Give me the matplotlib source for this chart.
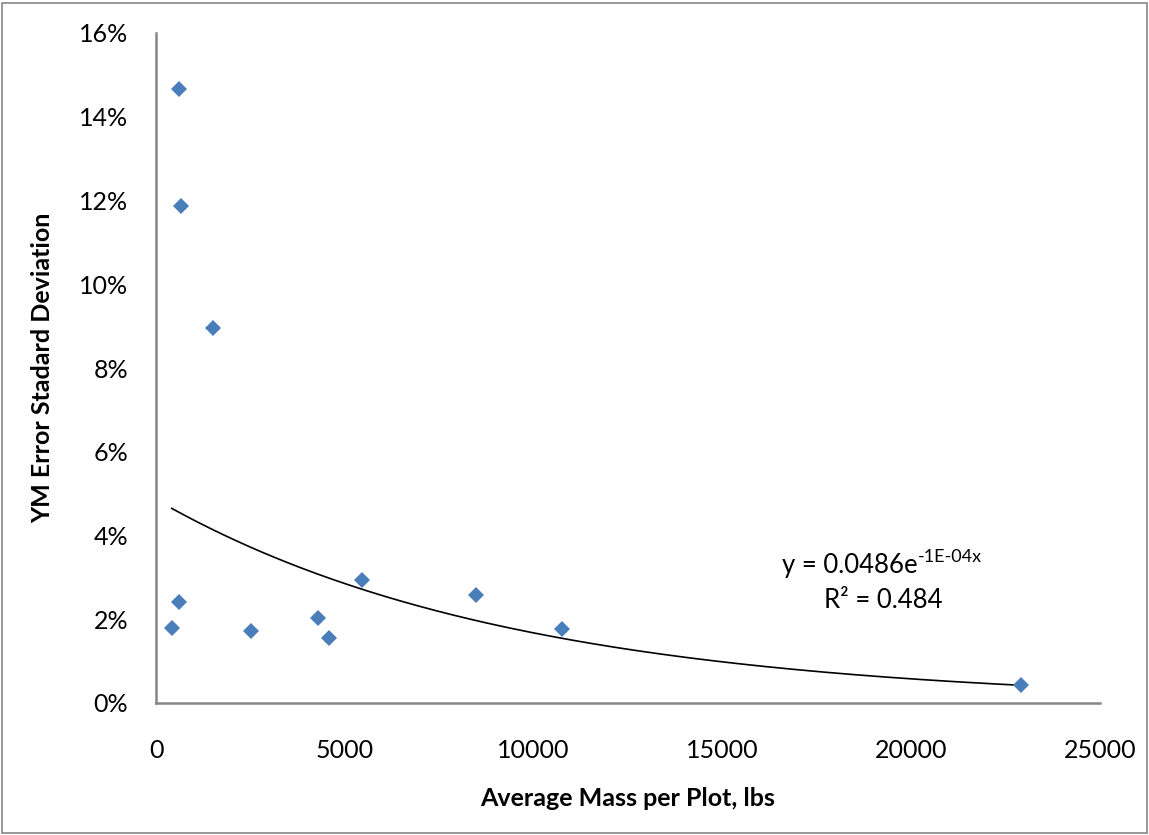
import numpy as np
import matplotlib.pyplot as plt
from matplotlib.patches import Rectangle
from matplotlib.ticker import FuncFormatter

plt.rcParams['font.family'] = ['Lato', 'DejaVu Sans']

# values
mass = [601, 670, 1510, 617, 416, 2516, 4298, 4590, 5448, 8467, 10744, 22900]
ym_sd = [0.1467, 0.1187, 0.0895, 0.0241, 0.0180, 0.0172, 0.0202, 0.0156, 0.0294, 0.0258, 0.0176, 0.0044]

eq_base = 'y = 0.0486e'
eq_sup = '-1E-04x'
r2_text = 'R² = 0.484'

fig = plt.figure(figsize=(11.49, 8.35), dpi=100)
ax = fig.add_axes([156/1149, 1-703/835, (1100-156)/1149, (703-33)/835])

x = np.array(mass)
y = np.array(ym_sd)
# exponential trendline, same way excel does it (linear fit of ln y)
b, a = np.polyfit(x, np.log(y), 1)
xt = np.linspace(x.min(), x.max(), 200)
ax.plot(xt, np.exp(a) * np.exp(b * xt), color='black', lw=1.2, zorder=2)

ax.plot(x, y, 'D', color='#4A7EBB', markersize=8.5, markeredgewidth=0, zorder=3)

ax.set_xlim(0, 25000)
ax.set_ylim(0, 0.16)
ax.set_xticks(np.arange(0, 25001, 5000))
ax.set_yticks(np.arange(0, 0.161, 0.02))
ax.yaxis.set_major_formatter(FuncFormatter(lambda v, p: '%d%%' % round(v*100)))

for s in ['top', 'right']:
    ax.spines[s].set_visible(False)
for s in ['left', 'bottom']:
    ax.spines[s].set_color('#868686')
    ax.spines[s].set_linewidth(1.8)
ax.tick_params(axis='both', length=0, labelsize=18)
ax.tick_params(axis='y', pad=20)
ax.tick_params(axis='x', pad=26)

ax.set_xlabel('Average Mass per Plot, lbs', fontsize=18, fontweight='bold', labelpad=18)
ax.set_ylabel('YM Error Stadard Deviation', fontsize=18, fontweight='bold', labelpad=18)

t = ax.text(782/1149, 1-566/835, eq_base, transform=fig.transFigure, ha='left', va='center', fontsize=18.5)
ax.annotate(eq_sup, xy=(1, 0.55), xycoords=t, ha='left', va='bottom', fontsize=13)
ax.text(883/1149, 1-601/835, r2_text, transform=fig.transFigure, ha='center', va='center', fontsize=18.5)

fig.patches.append(Rectangle((0.002, 0.002), 0.996, 0.995, transform=fig.transFigure,
                             fill=False, edgecolor='#868686', lw=1.2))

fig.savefig('out.png', dpi=100)
